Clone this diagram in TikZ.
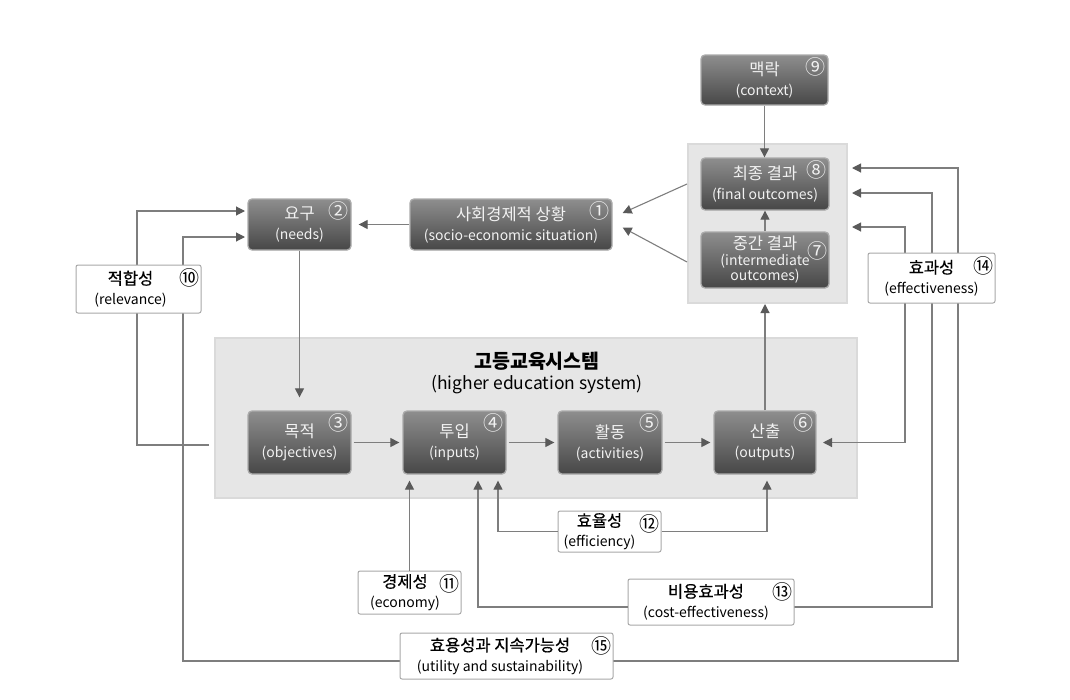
\documentclass[tikz,border=0pt]{standalone}
\usepackage{fontspec}
\setmainfont{Noto Sans CJK KR}
\newfontfamily\komed{Noto Sans CJK KR}[FakeBold=0.5]
\usetikzlibrary{arrows.meta,calc}
\definecolor{lineg}{HTML}{7E7E7E}
\definecolor{tipg}{HTML}{5A5A5A}
\definecolor{boxtop}{HTML}{8E8E8E}
\definecolor{boxbot}{HTML}{474747}
\definecolor{boxedge}{HTML}{ABABAB}
\definecolor{panelfill}{HTML}{E6E6E6}
\definecolor{paneledge}{HTML}{DADADA}
\definecolor{wedge}{HTML}{A8A8A8}
\definecolor{txtw}{HTML}{F2F2F2}
\newcommand\ko[1]{{\fontsize{16.5}{20}\selectfont #1}}
\newcommand\kob[1]{{\komed\fontsize{16.5}{20}\selectfont #1}}
\newcommand\padr[1]{\rule{#1}{0pt}}
\tikzset{
  darkbox/.style={rounded corners=4pt, top color=boxtop, bottom color=boxbot, draw=boxedge,
    line width=1.3pt, text=txtw, align=center, inner sep=0pt,
    font=\fontsize{14}{20}\selectfont},
  whitebox/.style={rounded corners=2pt, fill=white, draw=wedge, line width=1pt, align=center,
    inner sep=0pt, font=\fontsize{14}{20}\selectfont, text=black},
  panel/.style={fill=panelfill, draw=paneledge, line width=2pt, inner sep=0pt},
  conn/.style={draw=lineg, line width=1.1pt},
  arr/.style={conn, -{Triangle[length=9pt,width=9pt,fill=tipg,color=tipg]}},
  dnum/.style={label={[font=\fontsize{20}{20}\selectfont, inner sep=0pt, text=txtw,
    anchor=center, xshift=-13pt, yshift=-13pt]north east:#1}},
  wnum/.style={label={[font=\fontsize{20}{20}\selectfont, inner sep=0pt, text=black,
    anchor=center, xshift=-12pt, yshift=-13pt]north east:#1}},
}
\begin{document}
\begin{tikzpicture}[x=1pt,y=-1pt]
\useasboundingbox (0,0) rectangle (1070,699);
% panels
\node[panel, minimum width=159pt, minimum height=159pt] (op) at (767.5,223.5) {};
\node[panel, minimum width=642pt, minimum height=160pt] (hes) at (536,418) {};
\node[align=center, font=\fontsize{17.5}{21}\selectfont] (hestitle) at (537,373)
  {{\fontsize{19.5}{21}\selectfont\bfseries 고등교육시스템}\\(higher education system)};

% long feedback connectors (drawn first, boxes cover them)
\draw[arr] ($(hes.west |- 0,445)+(-5,0)$) -| (137,211) -- (245,211);
\draw[arr] (905,253) |- (852,227);
\draw[arr] (905,303) |- (823,442.5);
\draw[arr] (794,607) -| (932,193) -- (852,193);
\draw[arr] (613,661) -| (958,168) -- (852,168);
\draw[arr] (400,661) -| (183,237) -- (245,237);

% dark boxes
\node[darkbox, dnum=⑨, minimum width=127pt, minimum height=50pt] (ctx) at (764.5,80) {\ko{맥락}\\(context)};
\node[darkbox, dnum=⑧, minimum width=128pt, minimum height=52pt] (fin) at (765,184) {\ko{최종 결과}\\(final outcomes)};
\node[darkbox, minimum width=128pt, minimum height=56pt, font=\fontsize{14}{15}\selectfont,
  label={[font=\fontsize{20}{20}\selectfont, inner sep=0pt, text=txtw, anchor=center, xshift=-12pt, yshift=9pt]east:⑦}]
  (mid) at (765,260) {\ko{중간 결과}\\[1pt](intermediate\\outcomes)};
\node[darkbox, dnum=①, minimum width=202pt, minimum height=51pt] (soc) at (511,224.5) {\ko{사회경제적 상황}\\(socio-economic situation)};
\node[darkbox, dnum=②, minimum width=103pt, minimum height=51pt] (need) at (299.5,224.5) {\ko{요구}\\(needs)};
\node[darkbox, dnum=③, minimum width=103pt, minimum height=63pt] (obj) at (299.5,442.5) {\ko{목적}\\(objectives)};
\node[darkbox, dnum=④, minimum width=103pt, minimum height=63pt] (inp) at (454.5,442.5) {\ko{투입}\\(inputs)};
\node[darkbox, dnum=⑤, minimum width=104pt, minimum height=63pt] (act) at (610,442.5) {\ko{활동}\\(activities)};
\node[darkbox, dnum=⑥, minimum width=102pt, minimum height=63pt] (out) at (765,442.5) {\ko{산출}\\(outputs)};

% white boxes
\node[whitebox, wnum=⑩, minimum width=125pt, minimum height=48pt] (rel) at (138.5,289) {\kob{적합성}\padr{16pt}\\(relevance)\padr{16pt}};
\node[whitebox, wnum=⑭, minimum width=127pt, minimum height=50pt] (eff) at (931.5,278) {\kob{효과성}\\(effectiveness)};
\node[whitebox, wnum=⑪, minimum width=103pt, minimum height=43pt] (econ) at (409.5,592.5) {\kob{경제성}\padr{9pt}\\(economy)\padr{9pt}};
\node[whitebox, wnum=⑫, minimum width=103pt, minimum height=41pt] (effic) at (609.5,531.5) {\kob{효율성}\padr{20pt}\\(efficiency)\padr{20pt}};
\node[whitebox, wnum=⑬, minimum width=166pt, minimum height=46pt] (cost) at (711,602) {\kob{비용효과성}\padr{10pt}\\(cost-effectiveness)\padr{10pt}};
\node[whitebox, wnum=⑮, minimum width=213pt, minimum height=46pt] (util) at (506.5,656) {\kob{효용성과 지속가능성}\padr{13pt}\\(utility and sustainability)\padr{13pt}};

% node-to-node connectors
\draw[arr] (ctx.south) -- (ctx.south |- fin.north);
\draw[arr] (mid.north) -- (fin.south);
\draw[arr] ($(op.north west)+(0,41)$) -- ($(soc.east)+(10,-11.5)$);
\draw[arr] ($(op.north west)+(0,119)$) -- ($(soc.east)+(10,3)$);
\draw[arr] (soc.west) -- ($(need.east)+(7,0)$);
\draw[arr] (need.south) -- ($(obj.north)+(0,-13)$);
\draw[arr, shorten <=2pt, shorten >=3pt] (obj.east) -- (inp.west);
\draw[arr, shorten <=2pt, shorten >=3pt] (inp.east) -- (act.west);
\draw[arr, shorten <=2pt, shorten >=3pt] (act.east) -- (out.west);
\draw[arr] (out.north) -- (out.north |- op.south);
\draw[arr] (econ.north) -- ($(econ.north |- inp.south)+(0,6)$);
\draw[arr] ($(cost.west)+(0,5)$) -| ($(inp.south)+(23.5,6)$);
\draw[arr] (effic.west) -| ($(inp.south)+(43.5,6)$);
\draw[arr] (effic.east) -| ($(out.south)+(2,6)$);
\end{tikzpicture}
\end{document}
